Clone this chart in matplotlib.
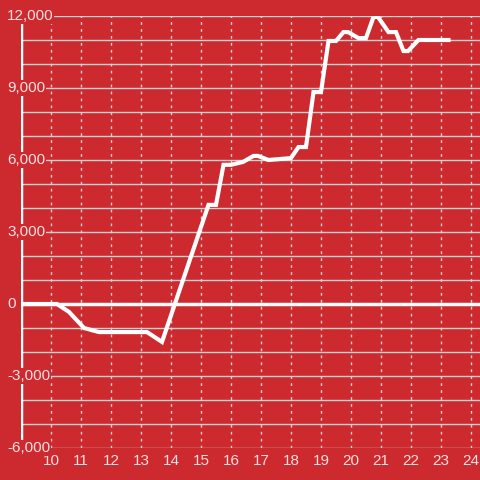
import matplotlib
matplotlib.use("Agg")
import matplotlib.pyplot as plt
import matplotlib.transforms as mtransforms

# hour of day vs running total
hours = [9.0, 10.2, 10.6, 11.1, 11.6, 13.2, 13.7, 15.25, 15.5, 15.75, 16.0, 16.4,
         16.75, 16.9, 17.25, 18.0, 18.25, 18.5, 18.75, 19.0, 19.25, 19.5, 19.75,
         19.9, 20.25, 20.5, 20.75, 20.9, 21.25, 21.5, 21.75, 21.9, 22.25, 23.25]
values = [0, 0, -330, -1000, -1170, -1170, -1580, 4130, 4130, 5800, 5800, 5920,
          6170, 6170, 6000, 6080, 6540, 6540, 8830, 8830, 10960, 10960, 11330,
          11330, 11080, 11080, 11960, 11960, 11330, 11330, 10540, 10540, 11000, 11000]
x_ticks = list(range(10, 25))
y_grid = list(range(-6000, 13000, 1000))
y_labels = [-6000, -3000, 0, 3000, 6000, 9000, 12000]

bg = '#cc2a2f'
txt = '#f6e0e0'
grid_c = '#d8d0d0'

fig = plt.figure(figsize=(4.8, 4.8), dpi=100, facecolor=bg)
ax = fig.add_axes([21 / 480, 1 - 448 / 480, 1 - 21 / 480, 432 / 480])
ax.set_facecolor(bg)
ax.set_xlim(9, 24.3)
ax.set_ylim(-6000, 12000)
for s in ax.spines.values():
    s.set_visible(False)
ax.set_xticks([])
ax.set_yticks([])

for y in y_grid:
    ax.axhline(y, color=grid_c, lw=1.0, zorder=1)
for x in x_ticks:
    ax.axvline(x, color=grid_c, lw=1.0, ls=(0, (2, 3)), zorder=1)

ax.axhline(0, color='white', lw=2.5, zorder=2)
ax.axvline(9, color='white', lw=2.5, zorder=2)

ax.plot(hours, values, color='white', lw=3, solid_joinstyle='miter', zorder=4)

trans = mtransforms.blended_transform_factory(fig.transFigure, ax.transData)
for v in y_labels:
    ax.text(7 / 480, v, f'{v:,}', transform=trans, ha='left', va='center',
            fontsize=11, color=txt, family='Liberation Sans', clip_on=False,
            bbox=dict(facecolor=bg, edgecolor='none', pad=0.5), zorder=5)

trans_x = mtransforms.blended_transform_factory(ax.transData, fig.transFigure)
for x in x_ticks:
    ax.text(x, 1 - 461 / 480, str(x), transform=trans_x, ha='center', va='center',
            fontsize=11, color=txt, family='Liberation Sans', clip_on=False)

fig.savefig('out.png', dpi=100, facecolor=bg)
